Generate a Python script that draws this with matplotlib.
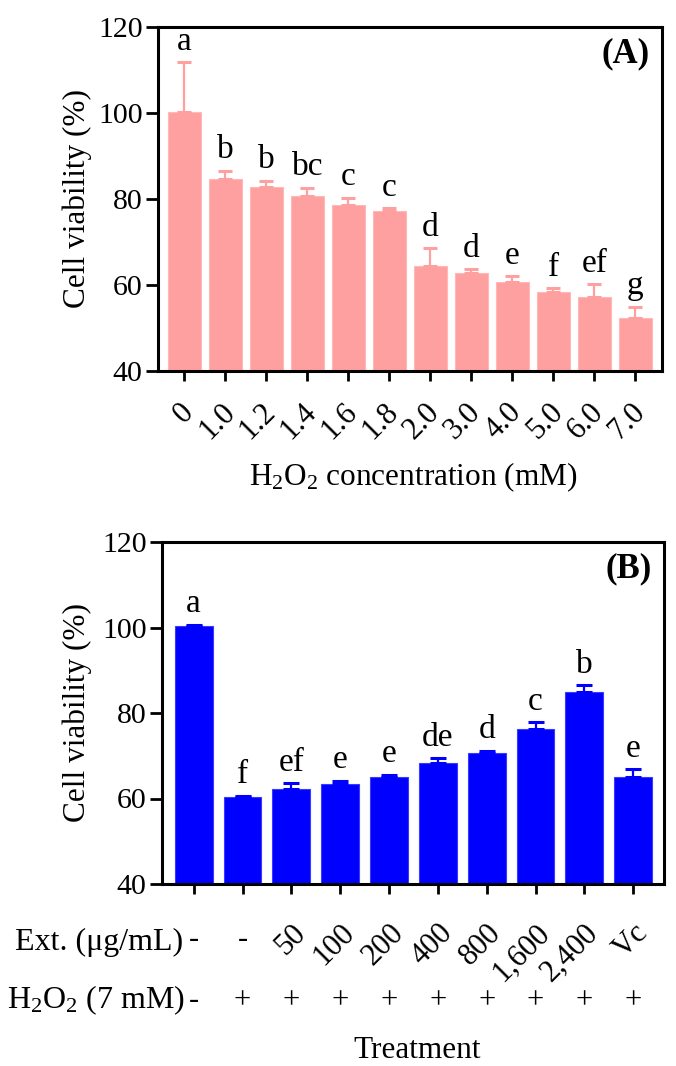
import matplotlib
matplotlib.use('Agg')
import matplotlib.pyplot as plt
import matplotlib.transforms as mtransforms
import numpy as np

plt.rcParams['font.family'] = ['Liberation Serif', 'DejaVu Serif']
plt.rcParams['mathtext.fontset'] = 'custom'
plt.rcParams['mathtext.rm'] = 'Liberation Serif'
plt.rcParams['mathtext.it'] = 'Liberation Serif:italic'
plt.rcParams['mathtext.bf'] = 'Liberation Serif:bold'

#
# Data
#
# (A) H2O2 dose response
conc_labels = ['0', '1.0', '1.2', '1.4', '1.6', '1.8', '2.0', '3.0', '4.0', '5.0', '6.0', '7.0']
viab_a = [100.2, 84.7, 82.8, 80.7, 78.6, 77.3, 64.5, 62.8, 60.7, 58.3, 57.2, 52.4]
err_a = [11.6, 1.9, 1.5, 1.9, 1.7, 0.5, 4.0, 0.9, 1.3, 1.0, 3.0, 2.5]
sig_a = ['a', 'b', 'b', 'bc', 'c', 'c', 'd', 'd', 'e', 'f', 'ef', 'g']

# (B) extract protection
ext_labels = ['-', '-', '50', '100', '200', '400', '800', '1,600', '2,400', 'Vc']
h2o2_labels = ['-', '+', '+', '+', '+', '+', '+', '+', '+', '+']
viab_b = [100.3, 60.3, 62.3, 63.4, 65.1, 68.4, 70.7, 76.3, 84.8, 65.1]
err_b = [0.3, 0.3, 1.3, 0.8, 0.5, 1.0, 0.5, 1.5, 1.7, 1.8]
sig_b = ['a', 'f', 'ef', 'e', 'e', 'de', 'd', 'c', 'b', 'e']

PINK = '#FFA0A0'
BLUE = '#0000FF'
W, H = 676, 1066

def fx(px):
    return px / W

def fy(py):
    return 1 - py / H

fig = plt.figure(figsize=(W / 100, H / 100), dpi=100)
ax_a = fig.add_axes([fx(158), fy(371), 504 / W, 344 / H])
ax_b = fig.add_axes([fx(162), fy(884), 502 / W, 342 / H])

def style_axes(ax):
    for sp in ax.spines.values():
        sp.set_linewidth(2.2)
    ax.set_ylim(40, 120)
    ax.set_yticks([40, 60, 80, 100, 120])
    ax.tick_params(axis='y', direction='out', length=9, width=2, labelsize=21.5, pad=2)
    ax.tick_params(axis='x', direction='out', length=7, width=2)

# ---- panel A ----
xa = np.arange(len(viab_a))
ax_a.bar(xa, viab_a, width=0.79, color=PINK, edgecolor='#FFB8B8', linewidth=0.8)
ax_a.errorbar(xa, viab_a, yerr=[np.zeros(len(err_a)), err_a], fmt='none',
              ecolor=PINK, elinewidth=1.6, capsize=5, capthick=2.2)
for i, s in enumerate(sig_a):
    ax_a.annotate(s, (xa[i], viab_a[i] + err_a[i]), xytext=(0, 9),
                  textcoords='offset points', ha='center', va='baseline', fontsize=24)
style_axes(ax_a)
ax_a.set_xlim(-0.646, 11.65)
ax_a.set_xticks(xa)
ax_a.set_xticklabels(conc_labels, rotation=45, ha='right', va='center',
                     rotation_mode='anchor', fontsize=22)
ax_a.tick_params(axis='x', pad=19.5)
shift = mtransforms.ScaledTranslation(0.05, 0, fig.dpi_scale_trans)
for lab in ax_a.get_xticklabels():
    lab.set_transform(lab.get_transform() + shift)
ax_a.text(0.975, 0.97, '(A)', transform=ax_a.transAxes, ha='right', va='top',
          fontsize=25, fontweight='bold')

fig.text(fx(77), fy(199), 'Cell viability (%)', rotation=90, ha='center',
         va='center', fontsize=22.5)
fig.text(fx(413), fy(485), 'H$_2$O$_2$ concentration (mM)', ha='center',
         va='baseline', fontsize=22.5)

# ---- panel B ----
xb = np.arange(len(viab_b))
ax_b.bar(xb, viab_b, width=0.775, color=BLUE, edgecolor='#3A3AFF', linewidth=0.8)
ax_b.errorbar(xb, viab_b, yerr=[np.zeros(len(err_b)), err_b], fmt='none',
              ecolor=BLUE, elinewidth=1.6, capsize=6, capthick=2.2)
for i, s in enumerate(sig_b):
    ax_b.annotate(s, (xb[i], viab_b[i] + err_b[i]), xytext=(0, 9),
                  textcoords='offset points', ha='center', va='baseline', fontsize=24)
style_axes(ax_b)
ax_b.set_xlim(-0.65, 9.63)
ax_b.set_xticks(xb)
ax_b.tick_params(axis='x', labelbottom=False)
ax_b.text(0.975, 0.97, '(B)', transform=ax_b.transAxes, ha='right', va='top',
          fontsize=25, fontweight='bold')

fig.text(fx(77), fy(713), 'Cell viability (%)', rotation=90, ha='center',
         va='center', fontsize=22.5)

# treatment table under panel B
blend = mtransforms.blended_transform_factory(ax_b.transData, fig.transFigure)
rot_shift = mtransforms.ScaledTranslation(0.10, 0, fig.dpi_scale_trans)
for i, lab in enumerate(ext_labels):
    if lab == '-':
        ax_b.text(xb[i], fy(947), lab, transform=blend, ha='center',
                  va='baseline', fontsize=22)
    else:
        ax_b.text(xb[i], fy(929), lab, transform=blend + rot_shift, ha='right',
                  va='center', rotation=45, rotation_mode='anchor', fontsize=22)
for i, lab in enumerate(h2o2_labels):
    ax_b.text(xb[i], fy(1008), lab, transform=blend, ha='center',
              va='baseline', fontsize=22)

fig.text(fx(183), fy(950), 'Ext. (\u03bcg/mL)', ha='right', va='baseline', fontsize=23)
fig.text(fx(185), fy(1008), 'H$_2$O$_2$ (7 mM)', ha='right', va='baseline', fontsize=23)
fig.text(fx(417), fy(1058), 'Treatment', ha='center', va='baseline', fontsize=22.5)

fig.savefig('out.png', dpi=100)
